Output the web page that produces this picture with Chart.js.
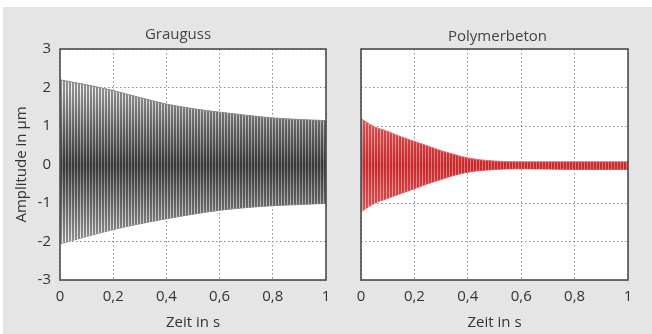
<!DOCTYPE html>
<html>
<head>
<meta charset="utf-8">
<script src="https://cdn.jsdelivr.net/npm/chart.js@4.4.0/dist/chart.umd.min.js"></script>
<style>
  html, body { margin: 0; padding: 0; background: #fff; }
  #panel { position: absolute; left: 3px; top: 7px; width: 649px; height: 327px; background: #e5e5e5; }
  canvas { position: absolute; top: 0; }
</style>
</head>
<body>
<div id="panel"></div>
<canvas id="grauguss" width="345" height="334" style="left:0"></canvas>
<canvas id="polymer" width="307" height="334" style="left:345px"></canvas>

<script>
// axis ticks
const timeTicks = [0, 0.2, 0.4, 0.6, 0.8, 1];
const timeTickLabels = ['0', '0,2', '0,4', '0,6', '0,8', '1'];
const ampTicks = [-3, -2, -1, 0, 1, 2, 3];
const ampTickLabels = ['-3', '-2', '-1', '0', '1', '2', '3'];

// Grauguss: envelope of the oscillation (µm)
const graugussTime = [0, 0.1, 0.2, 0.3, 0.4, 0.5, 0.6, 0.7, 0.8, 0.9, 1];
const graugussUpper = [2.2, 2.07, 1.92, 1.74, 1.57, 1.45, 1.36, 1.28, 1.21, 1.17, 1.14];
const graugussLower = [-2.06, -1.87, -1.69, -1.54, -1.41, -1.29, -1.19, -1.12, -1.07, -1.04, -1.01];

// Polymerbeton: envelope of the oscillation (µm)
const polymerTime = [0, 0.05, 0.1, 0.15, 0.2, 0.25, 0.3, 0.35, 0.4, 0.5, 0.6, 0.7, 0.8, 0.9, 1];
const polymerUpper = [1.19, 0.98, 0.86, 0.72, 0.6, 0.48, 0.36, 0.26, 0.17, 0.09, 0.07, 0.07, 0.07, 0.07, 0.07];
const polymerLower = [-1.23, -1.01, -0.88, -0.75, -0.63, -0.5, -0.39, -0.28, -0.2, -0.13, -0.11, -0.12, -0.13, -0.13, -0.13];

const FONT = "'Open Sans', 'DejaVu Sans', sans-serif";

function mix(a, b, t) {
  const c = a.map((v, i) => Math.round(v + (b[i] - v) * t));
  return `rgb(${c[0]},${c[1]},${c[2]})`;
}

// vertical stripes standing in for the dense oscillation, darker near zero
function stripes(chart, colors) {
  if (chart._stripes) return chart._stripes;
  const c = document.createElement('canvas');
  c.width = 3;
  c.height = chart.height;
  const g = c.getContext('2d');
  const zero = chart.scales.y.getPixelForValue(0);
  for (let y = 0; y < c.height; y++) {
    const t = Math.max(0, 1 - Math.abs(y - zero) / 75);
    g.fillStyle = mix(colors.lineEdge, colors.lineMid, t);
    g.fillRect(0, y, 2, 1);
    g.fillStyle = mix(colors.gapEdge, colors.gapMid, t);
    g.fillRect(2, y, 1, 1);
  }
  chart._stripes = chart.ctx.createPattern(c, 'repeat');
  return chart._stripes;
}

const frame = {
  id: 'frame',
  beforeDraw(chart) {
    const { ctx, chartArea: a } = chart;
    ctx.save();
    ctx.fillStyle = '#fff';
    ctx.fillRect(a.left, a.top, a.width, a.height);
    ctx.restore();
  },
  afterDatasetsDraw(chart) {
    const { ctx, chartArea: a } = chart;
    ctx.save();
    ctx.strokeStyle = '#4d4d4d';
    ctx.lineWidth = 1.6;
    ctx.strokeRect(a.left, a.top, a.width, a.height);
    ctx.restore();
  },
  afterDraw(chart, args, opts) {
    const { ctx, chartArea: a } = chart;
    ctx.save();
    ctx.font = '15px ' + FONT;
    ctx.fillStyle = '#444';
    ctx.textAlign = 'center';
    ctx.textBaseline = 'middle';
    ctx.fillText(opts.text, (a.left + a.right) / 2 + opts.dx, a.top - opts.dy);
    ctx.restore();
  }
};

function makePanel(id, title, time, upper, lower, colors, withLabels, pad, titlePos) {
  const tickFont = { family: FONT, size: 15 };
  return new Chart(document.getElementById(id), {
    type: 'line',
    data: {
      datasets: [
        {
          data: time.map((t, i) => ({ x: t, y: upper[i] })),
          borderColor: colors.border,
          borderWidth: 1,
          pointRadius: 0,
          cubicInterpolationMode: 'monotone',
          fill: '+1',
          backgroundColor: ctx => ctx.chart.chartArea ? stripes(ctx.chart, colors) : colors.border
        },
        {
          data: time.map((t, i) => ({ x: t, y: lower[i] })),
          borderColor: colors.border,
          borderWidth: 1,
          pointRadius: 0,
          cubicInterpolationMode: 'monotone',
          fill: false
        }
      ]
    },
    plugins: [frame],
    options: {
      responsive: false,
      animation: false,
      layout: { padding: pad },
      plugins: {
        legend: { display: false },
        tooltip: { enabled: false },
        frame: { text: title, dx: titlePos.dx, dy: titlePos.dy }
      },
      scales: {
        x: {
          type: 'linear',
          min: 0,
          max: 1,
          afterBuildTicks: s => { s.ticks = timeTicks.map(value => ({ value })); },
          afterFit: s => { s.height = 54; },
          ticks: {
            autoSkip: false,
            maxRotation: 0,
            padding: 8,
            color: '#333',
            font: tickFont,
            callback: (v, i) => timeTickLabels[i]
          },
          grid: { color: '#8c8c8c', drawTicks: false },
          border: { display: false, dash: [1.5, 2.5] },
          title: { display: true, text: 'Zeit in s', color: '#333', font: tickFont, padding: { top: 0, bottom: 2 } }
        },
        y: {
          type: 'linear',
          min: -3,
          max: 3,
          afterBuildTicks: s => { s.ticks = ampTicks.map(value => ({ value })); },
          afterFit: s => { s.width = withLabels ? 60 : 16; },
          ticks: {
            display: withLabels,
            padding: 9,
            color: '#333',
            font: tickFont,
            callback: (v, i) => ampTickLabels[i]
          },
          grid: { color: '#8c8c8c', drawTicks: false },
          border: { display: false, dash: [1.5, 2.5] },
          title: { display: withLabels, text: 'Amplitude in µm', color: '#333', font: tickFont, padding: { top: 13, bottom: 0 } }
        }
      }
    }
  });
}

makePanel('grauguss', 'Grauguss', graugussTime, graugussUpper, graugussLower, {
  border: '#8a8a8a',
  lineEdge: [140, 140, 140], lineMid: [55, 55, 55],
  gapEdge: [236, 236, 236], gapMid: [120, 120, 120]
}, true, { top: 49, right: 19, left: 0, bottom: 0 }, { dx: -15, dy: 14 });

makePanel('polymer', 'Polymerbeton', polymerTime, polymerUpper, polymerLower, {
  border: '#dc7070',
  lineEdge: [222, 110, 110], lineMid: [196, 42, 46],
  gapEdge: [248, 212, 212], gapMid: [226, 112, 112]
}, false, { top: 49, right: 24, left: 0, bottom: 0 }, { dx: 3, dy: 12 });
</script>
</body>
</html>
